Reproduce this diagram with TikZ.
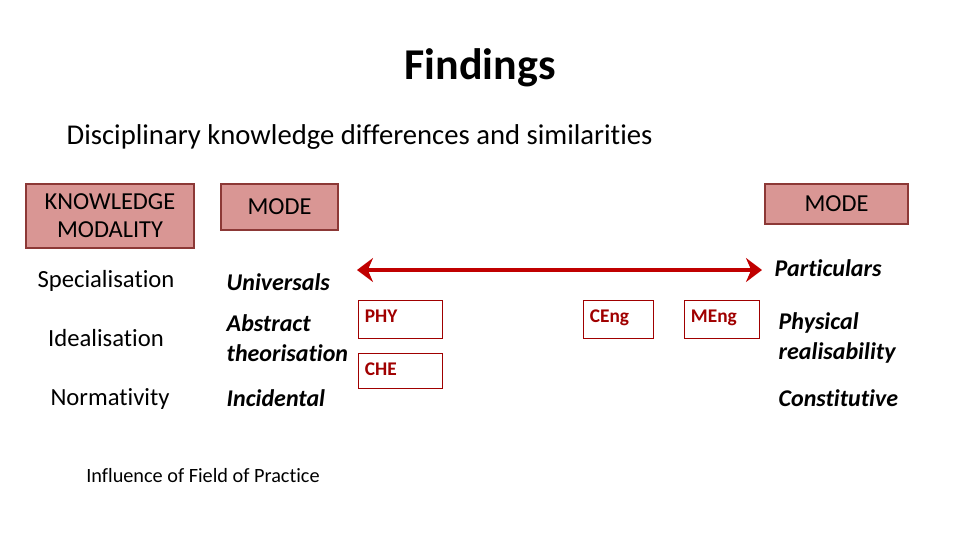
\documentclass[tikz,border=0pt]{standalone}
\usepackage{fontspec}
\setmainfont{Carlito}[Ligatures=NoCommon]
\usetikzlibrary{positioning}
\usetikzlibrary{arrows.meta}
\definecolor{headfill}{RGB}{217,150,148}
\definecolor{headdraw}{RGB}{140,56,54}
\definecolor{arrowred}{RGB}{192,0,0}
\definecolor{discred}{RGB}{160,0,0}

\begin{document}
\begin{tikzpicture}[x=0.75pt,y=-0.75pt,
  headbox/.style={draw=headdraw,fill=headfill,line width=2.2pt,inner sep=0pt,
    align=center,font=\fontsize{18.3}{21}\selectfont},
  discbox/.style={draw=discred,line width=0.6pt,inner sep=0pt,anchor=north west,
    minimum height=38*0.75pt},
  disclabel/.style={anchor=north west,inner sep=0pt,text=discred,
    font=\fontsize{14.5}{17}\selectfont\bfseries},
  rowtext/.style={font=\fontsize{18.5}{22}\selectfont},
  modetext/.style={font=\fontsize{18}{22}\selectfont\itshape\bfseries,align=left}]
\useasboundingbox (0,0) rectangle (960,540);

% title
\node[font=\fontsize{33}{38}\selectfont\bfseries] (title) at (480,68) {Findings};
\node[font=\fontsize{21.5}{26}\selectfont,anchor=west] (subtitle) at (62,137)
  {Disciplinary knowledge differences and similarities};

% heading boxes
\node[headbox,minimum width=168*0.75pt,minimum height=64*0.75pt] (kmod) at (110,216)
  {KNOWLEDGE\\MODALITY};
\node[headbox,minimum width=117*0.75pt,minimum height=46*0.75pt] (modeL) at (279.5,207) {MODE};
\node[headbox,minimum width=143*0.75pt,minimum height=40*0.75pt] (modeR) at (836.5,204) {MODE};

% modalities
\node[rowtext] (spec) at (106,281) {Specialisation};
\node[rowtext] (ideal) at (106,338) {Idealisation};
\node[rowtext] (norm) at (110,399) {Normativity};

% left mode
\node[modetext,anchor=west] (univ) at (222,282) {Universals};
\node[modetext,anchor=west] (abst) at (222,338) {Abstract\\theorisation};
\node[modetext,anchor=west] (incid) at (222,398) {Incidental};

% right mode
\node[modetext,anchor=west] (part) at (770,268) {Particulars};
\node[modetext,anchor=west] (phys) at (774,338) {Physical\\realisability};
\node[modetext,anchor=west] (const) at (774,398) {Constitutive};

% continuum
\coordinate (arrL) at (357,270);
\coordinate (arrR) at (762,270);
\draw[arrowred,line width=3pt,{Stealth[length=12pt,width=18pt]}-{Stealth[length=12pt,width=18pt]}]
  (arrL) -- (arrR);

% disciplines
\node[discbox,minimum width=84*0.75pt] (phy) at (358,300) {};
\node[discbox,minimum width=84*0.75pt,minimum height=35*0.75pt] (che) at (358,353) {};
\node[discbox,minimum width=70*0.75pt] (ceng) at (583,300) {};
\node[discbox,minimum width=75*0.75pt] (meng) at (684,300) {};
\node[disclabel] (phylbl) at ([xshift=5pt,yshift=-7pt]phy.north west) {PHY};
\node[disclabel] (chelbl) at ([xshift=5pt,yshift=-7pt]che.north west) {CHE};
\node[disclabel] (cenglbl) at ([xshift=5pt,yshift=-7pt]ceng.north west) {CEng};
\node[disclabel] (menglbl) at ([xshift=5pt,yshift=-7pt]meng.north west) {MEng};

\node[font=\fontsize{15.2}{18}\selectfont] (infl) at (203,476)
  {Influence of Field of Practice};
\end{tikzpicture}
\end{document}
